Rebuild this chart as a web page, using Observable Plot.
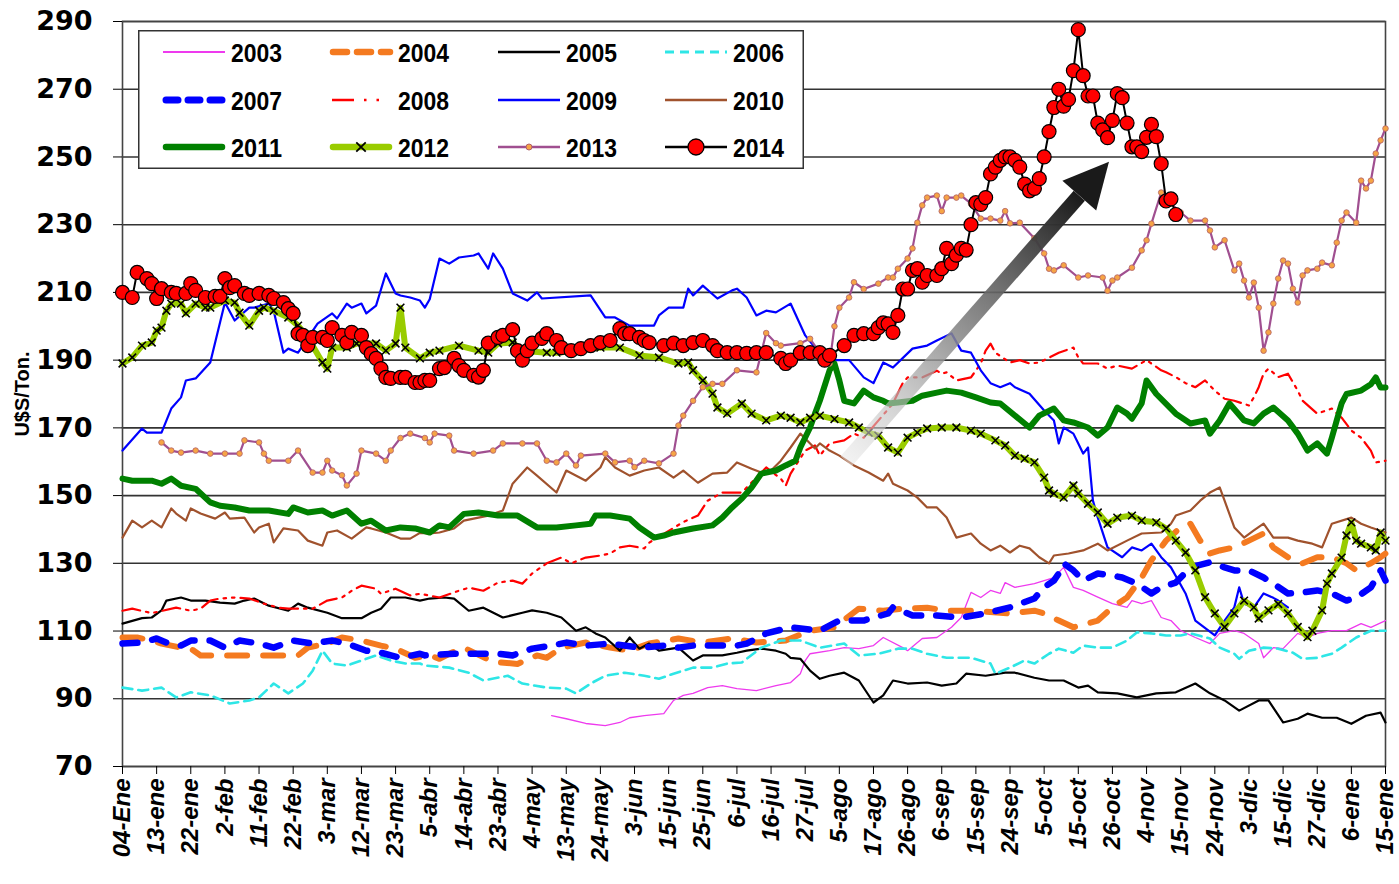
<!DOCTYPE html>
<html><head><meta charset="utf-8">
<script src="https://cdn.jsdelivr.net/npm/d3@7"></script>
<script src="https://cdn.jsdelivr.net/npm/@observablehq/plot@0.6"></script>
<style>
html,body{margin:0;padding:0;background:#fff;}
#wrap{position:relative;width:1399px;height:884px;overflow:hidden;}
</style></head><body><div id="wrap"></div>
<script>
// x = trading-day index (7 days per tick label), y = US$/Ton
const xLabels = ["04-Ene","13-ene","22-ene","2-feb","11-feb","22-feb","3-mar","12-mar","23-mar","5-abr","14-abr","23-abr","4-may","13-may","24-may","3-jun","15-jun","25-jun","6-jul","16-jul","27-jul","5-ago","17-ago","26-ago","6-sep","15-sep","24-sep","5-oct","15-oct","26-oct","4-nov","15-nov","24-nov","3-dic","15-dic","27-dic","6-ene","15-ene"];
const yTicks = [70,90,110,130,150,170,190,210,230,250,270,290];
const yTitle = "U$S/Ton.";
const years = ["2003","2004","2005","2006","2007","2008","2009","2010","2011","2012","2013","2014"];

const s2003 = [[88,85],[91,84.1],[95,82.7],[99,82.1],[102,83],[104,84.4],[107,85],[111,85.6],[113,89.5],[115,91],[117,91.6],[120,93.3],[123,93.9],[126,93],[130,92.4],[134,93.9],[137,94.8],[139,97.4],[140,101.3],[141,103.3],[145,104.2],[148,105.1],[151,104.8],[154,105.7],[156,108.1],[160,105.1],[161,104.2],[164,107.8],[167,108.1],[170,111.1],[172,114],[174,121.4],[176,119.9],[178,122],[180,121.1],[181,124.3],[183,122.9],[187,124],[189,124.9],[191,125.8],[193,128.8],[195,122.9],[197,122],[200,120],[203,118.1],[206,117],[207,119],[209,118.1],[211,119],[213,114],[215,113.1],[217,110.1],[220,108.1],[223,106.3],[225,109.3],[228,110.1],[230,109.3],[233,106.3],[234,102.1],[236,105.1],[238,104.8],[241,109.3],[243,108.1],[245,109.3],[248,110.1],[251,110.1],[254,112.2],[256,111.1],[259,113.1]];

const s2004 = [[0,108.1],[3,108.1],[6,107.2],[8,106.3],[12,105.1],[14,104.8],[16,102.8],[36,102.8],[38,105.1],[42,106.3],[45,108.1],[49,107.2],[53,105.7],[56,104.8],[60,102.1],[63,102.8],[65,101.8],[67,103.3],[70,105.1],[76,100.9],[81,100.3],[85,102.8],[87,102.1],[90,105.1],[95,106.6],[100,105.1],[104,104.2],[108,106.3],[114,107.8],[119,106.6],[125,107.8],[130,106.6],[136,107.2],[141,110.1],[146,111.1],[151,116.6],[156,116],[160,116.6],[165,116.9],[169,116],[174,116],[182,115.2],[187,116],[189,115.2],[192,113.1],[195,111.1],[198,112.3],[200,113.1],[203,117],[206,119.9],[209,125.8],[211,130.9],[214,136.7],[217,140.6],[219,141.7],[221,136.7],[223,132.9],[225,133.8],[228,134.7],[231,136.7],[234,138.8],[236,134.7],[239,131.8],[242,130],[245,131.8],[248,131.8],[251,130],[253,127.9],[256,130],[258,131.8],[259,132.9]];

const s2005 = [[0,112.2],[4,113.8],[6,114],[8,116.1],[9,119],[12,119.9],[14,119],[17,119],[20,118.4],[23,118.1],[25,119],[27,119.6],[30,117.5],[34,116],[36,118.1],[38,116.9],[42,115.4],[45,113.8],[49,113.8],[51,115.4],[53,116.6],[55,119.9],[58,119.9],[61,119],[63,119.6],[66,119.9],[68,119.6],[71,116],[74,116.9],[78,114],[82,115.4],[84,116.1],[87,115.4],[90,114],[93,110.1],[95,111.1],[97,109.3],[99,108.1],[102,104.2],[104,108.1],[106,104.8],[108,106.3],[110,104.2],[114,105.1],[117,101.3],[119,102.8],[123,102.8],[126,103.6],[128,104.2],[131,104.8],[134,104.2],[136,103.3],[137,102.1],[139,101.8],[141,98.3],[143,95.9],[145,96.8],[148,97.7],[151,95.4],[154,88.9],[156,91],[158,95.4],[161,94.5],[165,94.8],[168,93.9],[171,94.5],[173,97.4],[177,96.8],[181,97.7],[183,97.7],[187,96.2],[190,95.4],[193,95.4],[196,93.3],[198,93.9],[200,91.9],[204,91.6],[208,90.4],[212,91.6],[216,91.9],[220,94.5],[223,91.6],[226,89.5],[229,86.5],[233,89.5],[235,89.5],[238,83],[241,84.1],[243,85.6],[246,84.4],[249,84.4],[252,82.6],[255,85],[258,85.9],[259,83]];

const s2006 = [[0,93.3],[4,92.4],[8,93.3],[11,90.4],[14,91.9],[18,91],[22,88.6],[26,89.5],[28,90.4],[31,94.5],[34,91.6],[37,94.5],[39,98.3],[41,104.2],[43,100.4],[46,99.8],[49,101.3],[52,102.8],[55,101.3],[58,100.4],[61,100.4],[62,99.8],[67,99.2],[71,97.7],[74,95.4],[79,96.8],[82,94.5],[87,93.3],[91,93],[93,91.6],[96,94.5],[99,96.8],[103,97.7],[107,96.8],[110,95.9],[113,97.4],[117,99.2],[121,99.2],[124,100.4],[127,100.7],[131,105.1],[135,107.2],[139,107.2],[143,105.1],[148,106.3],[151,102.8],[155,103.3],[159,104.8],[162,104.8],[165,103.3],[169,102.1],[174,102.1],[178,100.4],[179,97.4],[182,99.2],[185,101.3],[187,100.4],[190,103.3],[192,104.8],[195,103.6],[197,105.7],[200,105.1],[203,105.1],[206,107.2],[208,109.6],[211,109.3],[214,108.7],[217,108.7],[219,109.3],[223,107.8],[225,105.1],[228,103.3],[229,101.8],[231,104.2],[234,105.1],[237,104.8],[240,103.6],[242,101.8],[245,102.1],[248,103.3],[250,105.1],[253,108.1],[256,110.1],[259,110.1]];

const s2007 = [[0,106.3],[4,106.6],[7,107.8],[9,106.6],[12,105.7],[14,107.2],[18,107.2],[21,105.1],[24,107.2],[28,106.3],[31,105.1],[35,107.2],[39,106.3],[43,107.2],[46,106.3],[50,104.2],[53,103.6],[57,102.1],[61,103.3],[62,102.8],[68,103.3],[73,103.3],[77,103.3],[80,102.8],[84,104.8],[88,105.7],[91,106.6],[95,105.7],[100,106.3],[106,105.1],[111,105.7],[114,105.1],[117,105.7],[122,105.7],[126,105.7],[128,106.3],[132,109.3],[137,111.1],[143,110.1],[147,113.1],[152,113.1],[157,115.2],[158,117],[162,114.6],[167,114.6],[172,114],[177,115.2],[182,117],[187,119.6],[189,122.9],[191,124.9],[192,127],[193,130],[195,127.9],[197,124.9],[200,127],[203,126.4],[205,125.8],[208,124],[211,121.1],[213,122.9],[216,124.3],[219,128.8],[223,130.3],[226,128.8],[228,127.9],[231,127.9],[234,125.8],[236,124],[239,121.1],[242,121.4],[245,122],[248,121.1],[251,119],[253,119.9],[256,122.9],[258,127.9],[259,124.9]];

const s2008 = [[0,116],[2,116.6],[6,115.3],[11,116.9],[14,116],[16,116.6],[18,119],[20,119.6],[23,119.9],[26,119.6],[29,118.1],[32,116.9],[34,116.6],[39,116.6],[42,119],[45,119.9],[47,121.9],[49,123.4],[52,122.5],[53,121],[56,122.5],[59,120.5],[61,121],[65,119.9],[69,121.9],[71,122.8],[74,121.9],[77,124.3],[80,124.9],[82,124],[84,127],[87,130],[90,131.7],[92,130],[95,131.7],[98,132.3],[100,132.9],[102,134.7],[104,135.2],[107,134.4],[108,136.1],[115,142.2],[118,144.1],[120,148.5],[123,150.9],[127,150.9],[132,158.3],[135,155],[136,152.9],[137,156.5],[140,163.3],[142,164.8],[143,161.8],[145,165.4],[148,166.3],[150,168.3],[152,167.1],[158,177.2],[160,183.2],[161,184.9],[164,184.9],[167,186.9],[168,186],[169,186.4],[171,184],[174,184.9],[176,189],[177,192.8],[178,194.9],[179,192.2],[182,189.3],[184,190],[186,189],[188,189.3],[189,190],[192,192.2],[195,193.7],[196,190.8],[197,189],[200,189],[202,187.5],[204,188.4],[207,187.5],[210,190],[213,187],[214,186.4],[216,185],[218,183.2],[220,182],[222,184],[224,181],[226,178.6],[228,178],[231,176.6],[232,179],[233,182],[234,186],[235,187.5],[237,185],[239,186],[241,181],[242,178],[245,174.2],[248,175.7],[250,173],[252,169.2],[254,167.1],[256,163.3],[257,159.8],[259,160.3]];

const s2009 = [[0,163.3],[4,169.8],[5,168.6],[8,168.6],[10,175.7],[12,179],[13,184],[15,184.6],[18,189.3],[21,207],[23,201.7],[26,205.5],[27,205.5],[30,206.7],[31,204.6],[33,192.2],[34,193.4],[36,192.2],[40,200.8],[43,203.8],[44,202.3],[46,206.7],[47,205.5],[49,206.7],[50,203.8],[52,206.1],[54,215.6],[56,209.7],[57,209.1],[59,208.5],[61,207.6],[62,205.5],[63,208],[65,220],[67,218.5],[69,220.3],[72,220.9],[73,221.5],[75,217],[76,221.5],[78,217],[80,209.7],[83,207.6],[85,210],[86,208.2],[96,209.1],[99,202.6],[101,202.6],[104,200.2],[109,200.2],[110,203.2],[112,205.5],[115,205.5],[116,211.1],[117,209.1],[119,212],[122,208.2],[125,210.6],[126,211.1],[128,208.5],[130,203.2],[132,204.6],[134,204.1],[137,206.7],[140,197.3],[142,193.7],[145,190],[149,190],[152,184.9],[154,183.2],[156,189.3],[158,187.8],[162,193.4],[165,194.3],[167,195.8],[170,197.9],[172,192.8],[174,192.2],[176,187],[178,183.2],[180,182],[182,183.2],[183,182],[186,180.1],[189,175.1],[191,172.2],[192,165.4],[193,170.1],[195,168.3],[196,165.4],[197,162.4],[198,164.2],[199,148.5],[200,143.5],[202,134.7],[205,131.8],[207,134.7],[209,133.8],[211,135.8],[213,131.8],[215,128.8],[218,121.1],[220,113.1],[224,108.7],[226,113.1],[228,117],[229,122.9],[230,118.1],[232,117],[234,121.1],[236,119.8],[237,119],[239,117]];

const s2010 = [[0,137.6],[2,142.6],[4,140.6],[6,142.6],[8,140.6],[10,146.2],[11,144.7],[13,142.6],[14,146.2],[16,144.7],[19,143.2],[21,145],[22,143.2],[25,143.5],[27,139.1],[28,140.6],[30,141.7],[31,136.2],[33,140.3],[36,139.7],[38,136.7],[41,135.2],[42,139.1],[44,139.7],[47,137.3],[50,140.6],[51,140.3],[54,139.1],[57,137.3],[59,137.3],[61,139],[63,138.8],[65,139.1],[68,140.3],[70,142.6],[73,143.5],[75,144.1],[78,145.6],[80,153.5],[83,158.3],[85,155.9],[89,150.9],[91,157.4],[95,154.4],[98,158.3],[99,161.3],[101,158.3],[104,155.9],[107,157.4],[110,158.3],[113,155.3],[115,157.4],[118,153.8],[121,156.5],[124,156.8],[126,159.8],[129,157.9],[131,156.8],[133,157.4],[135,160.3],[137,164.2],[139,168.3],[141,165.4],[142,163.9],[143,165.4],[145,163.3],[147,161.8],[150,158.9],[153,156.8],[156,154.4],[157,156.5],[158,153.5],[161,151.5],[163,149.4],[165,146.5],[167,146.5],[169,143.5],[171,137.6],[174,138.8],[176,135.8],[178,133.8],[180,135.2],[182,133.2],[184,135.2],[186,134.4],[188,131.8],[190,130],[191,132.3],[194,132.9],[197,133.8],[200,135.8],[202,133.8],[206,136.7],[209,138.8],[213,139.1],[215,141.7],[216,144.1],[219,145.6],[221,148.5],[223,150.9],[225,152.4],[226,148.5],[228,140.6],[230,137.6],[232,139.7],[234,141.7],[236,137.6],[239,137.6],[241,136.7],[244,135.8],[246,134.7],[248,141.7],[252,143.5],[254,141.7],[256,140.6],[259,139.1]];

const s2011 = [[0,155],[2,154.4],[6,154.4],[8,153.5],[10,155],[12,152.9],[15,152],[18,148],[20,147],[23,146.5],[26,145.6],[30,145.6],[34,144.6],[35,146.5],[38,145],[41,145.6],[43,144.1],[46,145.6],[49,141.7],[51,142.6],[54,139.7],[57,140.6],[60,140.3],[63,139.1],[65,141.2],[67,140.6],[70,144.6],[73,145],[77,144.1],[81,144.1],[85,140.6],[89,140.6],[93,141.2],[96,141.7],[97,144.1],[100,144.1],[104,143.2],[106,140.6],[109,137.6],[111,138.2],[113,139.1],[117,140.3],[121,141.2],[123,143.5],[125,146.5],[127,149.1],[129,152.4],[131,156.5],[134,157.4],[136,158.9],[138,160.3],[139,164.2],[141,170.1],[142,174.2],[143,178],[145,187],[146,189],[147,184],[148,178],[150,177.2],[152,181],[154,179],[156,178],[157,177.2],[159,177.5],[162,178],[164,179.5],[167,180.4],[169,181],[172,180.4],[175,179],[178,177.5],[180,177.2],[186,170.1],[188,173.6],[191,175.7],[193,172.2],[195,171.6],[198,170.1],[200,167.7],[202,170.1],[204,176],[206,174.2],[207,172.7],[209,177.2],[210,184],[212,180],[216,174.2],[219,171.3],[222,172.2],[223,168.3],[225,172.2],[227,177.2],[230,172.2],[232,171.3],[234,174.2],[236,176],[239,172.2],[241,168.3],[243,163.3],[245,165.4],[247,162.4],[248,167.1],[249,172.2],[250,177.2],[251,180],[254,181],[256,182.9],[257,184.9],[258,181.9],[259,181.9]];

const s2012 = [[0,189],[2,190.8],[4,194.3],[6,195.2],[7,198.7],[8,199.6],[9,204.6],[10,206.7],[12,206.7],[13,203.8],[15,206.7],[17,205.5],[18,205.5],[21,207.6],[23,207],[24,204],[26,200.2],[28,204.6],[29,205.5],[31,204.6],[34,202.6],[36,200.2],[38,196.7],[41,189.3],[42,187.5],[43,193.7],[46,193.7],[48,194.9],[52,194.9],[54,192.8],[56,194.9],[57,205.5],[58,193.7],[61,190.5],[63,192.2],[65,192.8],[69,194.3],[73,192.8],[75,192.2],[77,194.9],[80,195.2],[82,192.8],[87,192.2],[89,192.2],[93,192.8],[98,193.7],[102,193.7],[106,191.4],[110,190.8],[114,189],[116,189.3],[117,187],[119,184],[121,180.1],[122,176],[124,174.2],[127,177.2],[129,174.2],[132,172.2],[135,173.6],[137,173],[139,171.6],[141,173],[143,173.6],[146,172.6],[149,171.6],[151,170.1],[153,168.6],[155,167.7],[157,164.2],[159,162.7],[161,167.1],[163,168.6],[165,169.8],[168,170.1],[171,170.1],[174,169.2],[176,168.3],[179,166.3],[181,164.8],[183,161.8],[185,160.9],[187,159.8],[189,155.3],[190,151.5],[191,150.6],[193,149.4],[195,153],[196,150.6],[198,147.6],[200,145],[202,141.7],[204,143.5],[207,144.1],[209,142.6],[212,142.1],[214,140.3],[216,136.7],[218,133.2],[220,127.9],[222,120],[224,115.2],[226,111.2],[228,115.2],[230,119],[232,117],[233,113.7],[235,116.1],[237,118],[239,115.2],[241,111.2],[243,108.2],[244,110.1],[246,116.1],[247,124],[248,127],[250,131.7],[251,138.2],[252,142.1],[253,136.7],[254,135.8],[256,134.7],[257,133.8],[258,139.1],[259,136.7]];

const s2013 = [[8,165.7],[10,163.3],[12,162.7],[15,163.3],[18,162.4],[21,162.4],[24,162.4],[25,166.3],[28,165.7],[29,162.4],[30,160.3],[34,160.3],[36,163.3],[39,156.8],[41,156.8],[42,160.3],[43,157.4],[45,156],[46,153],[48,156.5],[49,163.3],[52,162.4],[54,160.3],[55,163.3],[57,167],[59,168.3],[62,167],[63,165.7],[64,168.3],[67,167.7],[68,163.3],[72,162.4],[76,163.3],[78,165.4],[82,165.4],[85,165.4],[87,160.3],[89,159.8],[91,162.4],[93,158.9],[94,161.8],[99,162.4],[101,159.8],[104,160.3],[105,158.4],[107,160.3],[110,159.5],[113,162.4],[114,170.7],[115,173.6],[117,178],[119,182],[121,183],[123,183],[126,187],[130,186.4],[132,198],[134,195],[135,194.3],[139,195],[141,196.3],[143,192.2],[145,189],[146,200],[147,205.5],[149,208.5],[150,213],[152,211],[155,212.6],[157,214.4],[158,214.4],[159,217],[161,220],[162,223],[163,230.6],[164,235.7],[165,238],[167,238.6],[168,234],[169,238],[171,238],[172,238.6],[174,236.2],[176,231.8],[178,231.8],[180,231.2],[181,234],[182,230.4],[184,230.6],[187,226],[189,221.5],[190,217],[191,216.5],[193,218],[196,214.4],[198,215],[201,214.4],[202,210.5],[203,213.5],[204,214.4],[207,217.3],[209,222.4],[210,225.4],[211,230.3],[213,239.5],[215,236.2],[217,233.6],[219,231.2],[222,231.2],[223,228.3],[224,223.3],[226,225.4],[228,216.5],[229,218.5],[230,213.5],[231,208.5],[232,212.9],[233,205.5],[234,192.8],[235,198.2],[236,206.7],[237,214.1],[238,219.4],[239,218.5],[240,211.1],[241,207],[242,215],[243,216.5],[245,217],[246,218.8],[248,218],[249,224.7],[250,231.2],[251,233.6],[253,230.6],[254,243],[255,240.7],[256,243],[257,251],[258,254.9],[259,258.4]];

const s2014 = [[0,210],[2,208.5],[3,215.9],[5,214.1],[6,212.6],[7,208.2],[8,211.1],[10,210],[11,209.7],[13,209.7],[14,212.6],[15,210.6],[17,208.5],[19,208.8],[20,208.8],[21,214.1],[22,211.4],[23,212],[25,209.7],[26,209.1],[28,209.7],[30,209.1],[31,208.2],[33,207],[34,205.2],[35,203.8],[36,197.8],[37,197.3],[38,194.3],[39,196.7],[41,196.7],[42,195.8],[43,199.6],[45,197.3],[46,195.2],[47,198.2],[49,197.3],[50,193.7],[51,191.9],[52,190.5],[53,187.5],[54,184.9],[55,184.6],[57,184.9],[58,184.9],[60,183.4],[61,183.4],[62,184],[63,184],[65,187.5],[66,187.8],[68,190.5],[69,188.4],[70,187],[72,185.5],[73,185],[74,187],[75,195],[77,196.7],[78,197.3],[80,199],[81,192.8],[82,190],[83,192.8],[84,195],[86,196.4],[87,197.8],[89,195.8],[90,193.7],[92,192.8],[94,193.4],[96,194.3],[98,195.2],[100,195.8],[102,199.3],[103,197.8],[104,197.8],[106,196.7],[107,195.8],[108,195.2],[111,194.3],[113,195],[115,194.3],[117,195.2],[119,195.8],[121,194.3],[122,192.8],[124,192.2],[126,192.2],[128,192],[130,192.2],[132,192.2],[135,190.5],[136,189],[137,190],[139,192.2],[141,192.2],[143,192.2],[144,190],[145,191.4],[148,194.3],[150,197.3],[152,197.8],[154,197.8],[155,199.6],[156,201],[157,200.7],[158,198.2],[159,203.2],[160,211],[161,211],[162,216.5],[163,217],[164,213],[165,215],[167,215],[168,217],[169,223],[170,218.5],[171,221],[172,223],[173,222.5],[174,230],[175,236.5],[176,236],[177,238],[178,245],[179,247],[180,249],[181,250],[182,250],[183,249],[184,247],[185,242],[186,240],[187,240.7],[188,243.6],[189,250],[190,257.5],[191,264.6],[192,270],[193,265],[194,267],[195,275.5],[196,287.6],[197,274],[198,268],[199,268],[200,260],[201,258],[202,255.7],[203,260.8],[204,268.7],[205,267.5],[206,260],[207,253],[208,253],[209,251.6],[210,255.8],[211,259.6],[212,256],[213,248],[214,237],[215,237.6],[216,233]];

// annotation arrow (start, tip) in data units
const arrowFrom = [148.5, 160];
const arrowTo = [202.4, 248.4];

const rows = arr => arr.map(([d, v]) => ({d, v}));
const ln = (arr, o) => Plot.line(rows(arr), {x: "d", y: "v", strokeLinejoin: "round", ...o});

const st = {
  "2003": {stroke: "#ee3aee", strokeWidth: 1.3},
  "2004": {stroke: "#f47a20", strokeWidth: 6, strokeDasharray: "20,16", strokeLinecap: "round"},
  "2005": {stroke: "#000", strokeWidth: 2.2},
  "2006": {stroke: "#2ee6e6", strokeWidth: 2.6, strokeDasharray: "10,6"},
  "2007": {stroke: "#0000ff", strokeWidth: 6.5, strokeDasharray: "15,15", strokeLinecap: "round"},
  "2008": {stroke: "#ff0000", strokeWidth: 2.2, strokeDasharray: "18,6,2.5,6,2.5,6"},
  "2009": {stroke: "#0000ff", strokeWidth: 2.2},
  "2010": {stroke: "#a0522d", strokeWidth: 2.2},
  "2011": {stroke: "#008000", strokeWidth: 6},
  "2012": {stroke: "#99cc00", strokeWidth: 6},
  "2013": {stroke: "#a04f90", strokeWidth: 2.2},
  "2014": {stroke: "#000", strokeWidth: 2}
};

const chart = Plot.plot({
  width: 1399, height: 884,
  marginLeft: 122, marginRight: 14, marginTop: 21, marginBottom: 118,
  x: {domain: [0, 259]},
  y: {domain: [70, 290]},
  style: {background: "#fff", overflow: "visible"},
  marks: [
    Plot.gridY(yTicks, {stroke: "#333", strokeOpacity: 1, strokeWidth: 1.6}),
    Plot.frame({stroke: "#444", strokeWidth: 1.6}),
    Plot.axisY({ticks: yTicks, tickSize: 9, tickPadding: 21, fontSize: 27, fontWeight: "bold", fontFamily: "DejaVu Sans", label: null}),
    Plot.axisX({ticks: d3.range(0, 260, 7), tickFormat: d => xLabels[d / 7], tickRotate: -90, tickSize: 8, tickPadding: 4,
      fontSize: 24, fontWeight: "bold", fontStyle: "italic", fontFamily: "Liberation Sans, Arial, sans-serif", label: null}),
    Plot.text([yTitle], {frameAnchor: "left", textAnchor: "middle", dx: -100, rotate: -90, fontSize: 20, fontWeight: "bold", fontFamily: "Liberation Sans, Arial, sans-serif", fill: "#000"}),
    ln(s2003, st["2003"]),
    ln(s2004, st["2004"]),
    ln(s2005, st["2005"]),
    ln(s2006, st["2006"]),
    ln(s2007, st["2007"]),
    ln(s2008, st["2008"]),
    ln(s2009, st["2009"]),
    ln(s2010, st["2010"]),
    ln(s2011, st["2011"]),
    ln(s2012, st["2012"]),
    Plot.dot(rows(s2012), {x: "d", y: "v", symbol: "times", r: 3.6, stroke: "#000", strokeWidth: 1.6}),
    ln(s2013, st["2013"]),
    Plot.dot(rows(s2013), {x: "d", y: "v", r: 2.8, fill: "#f6a445", stroke: "#b0606a", strokeWidth: 0.8}),
    ln(s2014, st["2014"]),
    Plot.dot(rows(s2014), {x: "d", y: "v", r: 7, fill: "#ff0000", stroke: "#000", strokeWidth: 1.2})
  ]
});
document.getElementById("wrap").appendChild(chart);

// annotation arrow drawn through the chart's own scales
(function () {
  const sx = chart.scale("x"), sy = chart.scale("y");
  const p0 = [sx.apply(arrowFrom[0]), sy.apply(arrowFrom[1])];
  const p1 = [sx.apply(arrowTo[0]), sy.apply(arrowTo[1])];
  const dx = p1[0] - p0[0], dy = p1[1] - p0[1], L = Math.hypot(dx, dy);
  const u = [dx / L, dy / L], n = [-u[1], u[0]];
  const headLen = 45, headHalf = 22.5, shaftHalf = 7.5;
  const b = [p1[0] - u[0] * headLen, p1[1] - u[1] * headLen];
  const svg = d3.select(chart);
  const defs = svg.append("defs");
  const g = defs.append("linearGradient").attr("id", "arrowGrad").attr("gradientUnits", "userSpaceOnUse")
    .attr("x1", p0[0]).attr("y1", p0[1]).attr("x2", b[0]).attr("y2", b[1]);
  g.append("stop").attr("offset", 0).attr("stop-color", "#e6e6e6").attr("stop-opacity", 0.5);
  g.append("stop").attr("offset", 0.45).attr("stop-color", "#8c8c8c").attr("stop-opacity", 0.85);
  g.append("stop").attr("offset", 1).attr("stop-color", "#1a1a1a").attr("stop-opacity", 1);
  const ga = svg.append("g");
  const pts = a => a.map(p => p.join(",")).join(" ");
  ga.append("polygon").attr("fill", "url(#arrowGrad)").attr("points", pts([
    [p0[0] + n[0] * shaftHalf, p0[1] + n[1] * shaftHalf],
    [b[0] + n[0] * shaftHalf, b[1] + n[1] * shaftHalf],
    [b[0] - n[0] * shaftHalf, b[1] - n[1] * shaftHalf],
    [p0[0] - n[0] * shaftHalf, p0[1] - n[1] * shaftHalf]]));
  ga.append("polygon").attr("fill", "#1a1a1a").attr("points", pts([
    p1,
    [b[0] + n[0] * headHalf, b[1] + n[1] * headHalf],
    [b[0] - n[0] * headHalf, b[1] - n[1] * headHalf]]));
  // keep 2014 series on top
  const kids = Array.from(chart.children);
  const last2 = kids.filter(k => k.tagName === "g").slice(-3, -1);
  last2.forEach(k => chart.appendChild(k));
})();

// legend (overlay inside plot area, as in the original)
(function () {
  const W = 666, H = 139;
  const leg = d3.select("#wrap").append("svg").attr("width", W).attr("height", H)
    .style("position", "absolute").style("left", "138px").style("top", "30px");
  leg.append("rect").attr("x", 0.75).attr("y", 0.75).attr("width", W - 1.5).attr("height", H - 1.5)
    .attr("fill", "#fff").attr("stroke", "#333").attr("stroke-width", 1.5);
  const colX = [25, 192, 360, 527], rowY = [22, 70, 117];
  years.forEach((yr, i) => {
    const x0 = colX[i % 4], y = rowY[Math.floor(i / 4)];
    const s = st[yr];
    const g = leg.append("g");
    const line = g.append("line").attr("x1", x0).attr("x2", x0 + 62).attr("y1", y).attr("y2", y)
      .attr("stroke", s.stroke).attr("stroke-width", Math.min(s.strokeWidth + 0.5, 7));
    if (yr === "2004") line.attr("x1", x0 + 3).attr("x2", x0 + 60).attr("stroke-dasharray", "14,10").attr("stroke-linecap", "round");
    if (yr === "2007") line.attr("x1", x0 + 3).attr("x2", x0 + 60).attr("stroke-dasharray", "12,10").attr("stroke-linecap", "round");
    if (yr === "2006") line.attr("stroke-dasharray", "9,6");
    if (yr === "2008") line.attr("x1", x0 + 2).attr("stroke-dasharray", "22,10,2.5,10,2.5,30");
    if (yr === "2011" || yr === "2012") line.attr("stroke-linecap", "round").attr("x1", x0 + 3).attr("x2", x0 + 59);
    if (yr === "2012") g.append("path").attr("d", d3.symbol(d3.symbolTimes, 60)()).attr("transform", `translate(${x0 + 31},${y})`).attr("stroke", "#000").attr("stroke-width", 1.8).attr("fill", "none");
    if (yr === "2013") g.append("circle").attr("cx", x0 + 31).attr("cy", y).attr("r", 3).attr("fill", "#f6a445").attr("stroke", "#b0606a");
    if (yr === "2014") g.append("circle").attr("cx", x0 + 31).attr("cy", y).attr("r", 8).attr("fill", "#ff0000").attr("stroke", "#000").attr("stroke-width", 1.3);
    g.append("text").attr("x", x0 + 68).attr("y", y + 9.5).text(yr)
      .attr("font-family", "Liberation Sans Narrow, Arial Narrow, Liberation Sans, Arial, sans-serif")
      .attr("font-weight", "bold").attr("font-size", 26)
      .attr("textLength", 51).attr("lengthAdjust", "spacingAndGlyphs").attr("fill", "#000");
  });
})();
</script>
</body></html>
